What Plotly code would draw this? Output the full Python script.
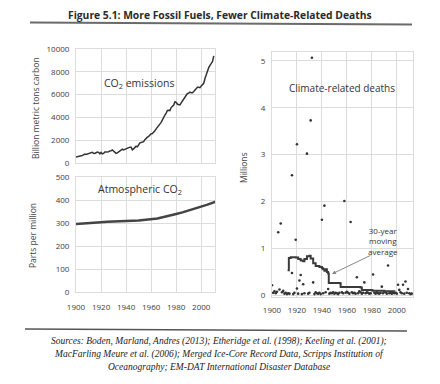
import plotly.graph_objects as go

# ---------------- data ----------------
emis_years = list(range(1900, 2011))
emis_values = [534, 552, 566, 617, 624, 663, 707, 784, 750, 785,
               819, 836, 879, 943, 850, 838, 901, 955, 936, 806,
               932, 803, 845, 970, 963, 975, 983, 1062, 1065, 1145,
               1053, 940, 847, 893, 973, 1027, 1130, 1209, 1142, 1192,
               1299, 1334, 1342, 1391, 1383, 1160, 1238, 1392, 1469, 1419,
               1630, 1767, 1795, 1841, 1865, 2043, 2177, 2270, 2330, 2454,
               2569, 2580, 2686, 2833, 2995, 3130, 3288, 3393, 3566, 3780,
               4053, 4208, 4376, 4614, 4623, 4596, 4864, 5026, 5087, 5369,
               5315, 5152, 5113, 5094, 5280, 5439, 5607, 5752, 5965, 6097,
               6127, 6217, 6164, 6162, 6266, 6398, 6542, 6651, 6643, 6610,
               6765, 6927, 6996, 7416, 7807, 8093, 8370, 8566, 8783, 8900,
               9400]

co2_years = [1900, 1905, 1910, 1915, 1920, 1925, 1930, 1935, 1940, 1945, 1950,
             1955, 1960, 1965, 1970, 1975, 1980, 1985, 1990, 1995, 2000, 2005,
             2010, 2012]
co2_values = [296, 297, 299, 301, 303, 305, 307, 309, 310, 310, 311,
              313, 317, 320, 326, 331, 339, 346, 354, 361, 369, 380,
              390, 394]

death_years = [1900, 1905, 1907, 1916, 1919, 1920, 1928, 1931, 1932, 1940,
               1942, 1958, 1963, 1916, 1923, 1922, 1920, 1925, 1933, 1945,
               1968, 1974, 1981, 1988, 1993, 2001, 2005, 2007, 2002, 2009,
               1901, 1902, 1903, 1904, 1906, 1908, 1909, 1910, 1911, 1912,
               1913, 1914, 1917, 1918, 1921, 1924, 1926, 1929, 1930, 1934,
               1935, 1936, 1937, 1938, 1939, 1941, 1943, 1946, 1947, 1948,
               1949, 1950, 1951, 1952, 1953, 1954, 1956, 1957, 1959, 1960,
               1961, 1962, 1964, 1965, 1966, 1967, 1969, 1970, 1971, 1972,
               1973, 1975, 1976, 1977, 1978, 1979, 1982, 1983, 1984, 1985,
               1986, 1987, 1989, 1990, 1991, 1992, 1994, 1995, 1996, 1997,
               1998, 1999, 2000, 2003, 2004, 2006, 2008, 2010, 2011, 2012]
death_values = [0.21, 1.34, 1.53, 2.56, 1.18, 3.22, 3.02, 3.73, 5.07, 1.61,
                1.91, 2.01, 1.56, 0.47, 0.43, 0.31, 0.14, 0.23, 0.27, 0.13,
                0.38, 0.27, 0.44, 0.18, 0.63, 0.22, 0.22, 0.29, 0.11, 0.13,
                0.05, 0.08, 0.04, 0.07, 0.12, 0.06, 0.09, 0.03, 0.05, 0.02,
                0.04, 0.03, 0.02, 0.05, 0.03, 0.02, 0.04, 0.03, 0.05, 0.02,
                0.06, 0.04, 0.03, 0.05, 0.02, 0.04, 0.06, 0.03, 0.05, 0.04,
                0.06, 0.03, 0.05, 0.04, 0.02, 0.05, 0.06, 0.04, 0.05, 0.07,
                0.05, 0.03, 0.06, 0.04, 0.05, 0.03, 0.04, 0.08, 0.06, 0.03,
                0.05, 0.04, 0.06, 0.05, 0.03, 0.04, 0.05, 0.03, 0.06, 0.04,
                0.03, 0.05, 0.04, 0.07, 0.06, 0.03, 0.04, 0.05, 0.03, 0.06,
                0.04, 0.05, 0.03, 0.06, 0.04, 0.03, 0.05, 0.04, 0.02, 0.03]

ma_years = [1912.5, 1913.5, 1915, 1919, 1921, 1923, 1925, 1926, 1928, 1930,
            1931, 1933, 1935, 1938, 1940, 1941, 1942, 1943, 1944, 1945,
            1945.5, 1954.5, 1955, 1971, 1972, 1980, 1981, 1990, 1998]
ma_values = [0.53, 0.79, 0.81, 0.80, 0.77, 0.74, 0.72, 0.77, 0.83, 0.84,
             0.78, 0.68, 0.62, 0.60, 0.57, 0.55, 0.52, 0.55, 0.49, 0.46,
             0.26, 0.25, 0.17, 0.16, 0.11, 0.10, 0.09, 0.08, 0.07]

year_ticks = [1900, 1920, 1940, 1960, 1980, 2000]
sources_lines = [
    "Sources: Boden, Marland, Andres (2013); Etheridge et al. (1998); Keeling et al. (2001);",
    "MacFarling Meure et al. (2006); Merged Ice-Core Record Data, Scripps Institution of",
    "Oceanography; EM-DAT International Disaster Database",
]

# ---------------- figure ----------------
W, H = 440, 384
def px(x):
    return x / W
def py(y):
    return 1 - y / H

INK = "#333333"
GRID = "#dcdcdc"
TICKF = dict(family="Open Sans", size=8, color="#3c3c3c")

fig = go.Figure()
fig.add_trace(go.Scatter(x=emis_years, y=emis_values, mode="lines",
                         line=dict(color=INK, width=1.5), xaxis="x", yaxis="y",
                         showlegend=False, hoverinfo="skip"))
fig.add_trace(go.Scatter(x=co2_years, y=co2_values, mode="lines",
                         line=dict(color="#444444", width=2.5), xaxis="x2", yaxis="y2",
                         showlegend=False, hoverinfo="skip"))
fig.add_trace(go.Scatter(x=death_years, y=death_values, mode="markers",
                         marker=dict(color=INK, size=2.6), xaxis="x3", yaxis="y3",
                         showlegend=False, hoverinfo="skip"))
fig.add_trace(go.Scatter(x=ma_years, y=ma_values, mode="lines",
                         line=dict(color="#3a3a3a", width=2, shape="hv"), xaxis="x3", yaxis="y3",
                         showlegend=False, hoverinfo="skip"))

common_x = dict(tickvals=year_ticks, showgrid=True, gridcolor=GRID, gridwidth=1,
                zeroline=False, showline=True, mirror=True, linecolor=GRID,
                tickfont=TICKF, tickcolor="rgba(0,0,0,0)")
common_y = dict(showgrid=True, gridcolor=GRID, gridwidth=1, zeroline=False,
                showline=True, mirror=True, linecolor=GRID, tickfont=TICKF,
                ticks="outside", tickcolor="rgba(0,0,0,0)", ticklen=4, tickformat="d")

left_dom = [px(76), px(215)]
fig.update_layout(
    width=W, height=H, autosize=False,
    margin=dict(l=0, r=0, t=0, b=0, autoexpand=False),
    paper_bgcolor="white", plot_bgcolor="white",
    xaxis=dict(domain=left_dom, range=[1900, 2011], anchor="y",
               showticklabels=False, ticks="", **common_x),
    yaxis=dict(domain=[py(163), py(49)], range=[0, 10000], dtick=2000, anchor="x", **common_y),
    xaxis2=dict(domain=left_dom, range=[1900, 2011], anchor="y2", ticks="outside", ticklen=7, **common_x),
    yaxis2=dict(domain=[py(292), py(177)], range=[0, 500], dtick=100, anchor="x2", **common_y),
    xaxis3=dict(domain=[px(272), px(413)], range=[1900, 2013], anchor="y3", ticks="outside", ticklen=5, **common_x),
    yaxis3=dict(domain=[py(297.4), py(51.6)], range=[-0.05, 5.2], tickvals=[0, 1, 2, 3, 4, 5],
                anchor="x3", **common_y),
)

C = dict(xanchor="center", yanchor="middle", showarrow=False)
ann = []
# title
ann.append(dict(text="<b>Figure 5.1: More Fossil Fuels, Fewer Climate-Related Deaths</b>",
                x=px(220), y=py(15), xref="paper", yref="paper",
                font=dict(family="Open Sans", size=10.3, color="#2a2a2a"), **C))
# axis titles
ann.append(dict(text="Billion metric tons carbon", textangle=-90, x=px(35), y=py(108),
                xref="paper", yref="paper",
                font=dict(family="Open Sans", size=8.5, color="#444444"), **C))
ann.append(dict(text="Parts per million", textangle=-90, x=px(32), y=py(236),
                xref="paper", yref="paper",
                font=dict(family="Open Sans", size=8.5, color="#444444"), **C))
ann.append(dict(text="Millions", textangle=-90, x=px(243), y=py(168),
                xref="paper", yref="paper",
                font=dict(family="Open Sans", size=8.5, color="#444444"), **C))
# panel labels
lab_font = dict(family="Open Sans", size=10.5, color=INK)
ann.append(dict(text="CO<sub>2</sub> emissions", x=1950, y=7000, xref="x", yref="y",
                font=lab_font, **C))
ann.append(dict(text="Atmospheric CO<sub>2</sub>", x=1951, y=445, xref="x2", yref="y2",
                font=lab_font, **C))
ann.append(dict(text="Climate-related deaths", x=1956, y=4.42, xref="x3", yref="y3",
                font=dict(family="Open Sans", size=10, color=INK), **C))
# moving average label
ann.append(dict(text="30-year<br>moving<br>average", x=1989, y=1.15, xref="x3", yref="y3",
                font=dict(family="Open Sans", size=8, color=INK), **C))
ann.append(dict(text="", x=1948, y=0.45, ax=1980, ay=0.86, xref="x3", yref="y3",
                axref="x3", ayref="y3", showarrow=True, arrowhead=2, arrowsize=0.8,
                arrowwidth=1, arrowcolor="#888888"))
# sources
for line, yy in zip(sources_lines, [341, 354, 367]):
    ann.append(dict(text="<i>" + line + "</i>", x=px(219), y=py(yy), xref="paper", yref="paper",
                    font=dict(family="Liberation Serif", size=9.5, color="#222222"), **C))
fig.update_layout(annotations=ann)

fig.update_layout(shapes=[
    dict(type="line", xref="paper", yref="paper", x0=px(30), y0=py(22.5), x1=px(412), y1=py(24.5),
         line=dict(color="#6a6a6a", width=2)),
    dict(type="line", xref="paper", yref="paper", x0=px(25), y0=py(329), x1=px(407), y1=py(331),
         line=dict(color="#555555", width=1.5)),
])

fig.write_html("out.html", config={"displayModeBar": False, "staticPlot": True},
               post_script="document.body.style.margin='0';document.body.style.overflow='hidden';")
